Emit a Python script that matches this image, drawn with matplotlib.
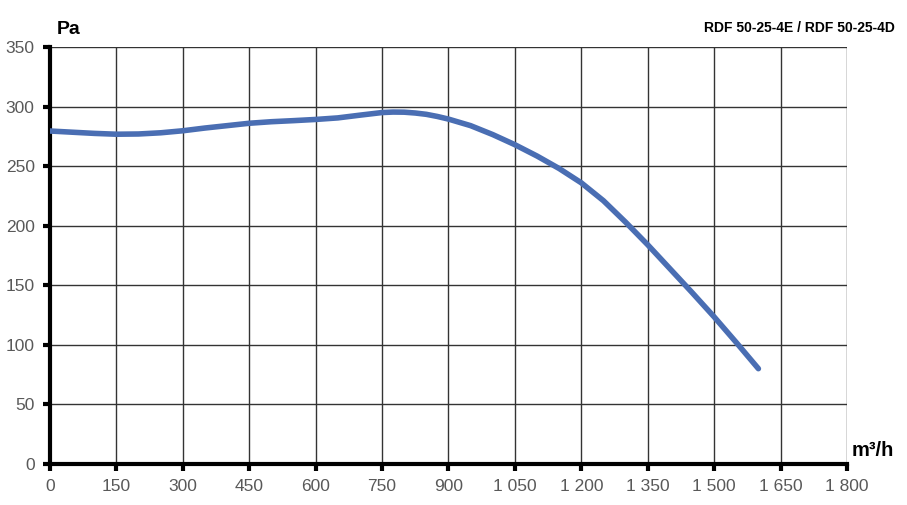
import matplotlib.pyplot as plt

# curve (airflow m3/h, pressure Pa)
flow = [0, 50, 100, 150, 200, 250, 300, 350, 400, 450, 500, 550, 600, 650, 700,
        750, 775, 800, 825, 850, 875, 900, 950, 1000, 1050, 1100, 1150, 1200,
        1250, 1300, 1350, 1400, 1450, 1500, 1550, 1600]
pressure = [279.5, 278.5, 277.5, 276.8, 277, 278, 279.7, 282, 284, 286, 287.3, 288.2, 289.2, 290.5, 292.8,
            295, 295.4, 295.3, 294.6, 293.5, 291.7, 289.5, 284, 276.5, 268, 258.5, 248, 236,
            221, 203, 184, 164, 144, 123.5, 102, 80]

x_ticks = [0, 150, 300, 450, 600, 750, 900, 1050, 1200, 1350, 1500, 1650, 1800]
y_ticks = [0, 50, 100, 150, 200, 250, 300, 350]

plt.rcParams['font.family'] = ['Liberation Sans', 'DejaVu Sans']

fig = plt.figure(figsize=(9.07, 5.05), dpi=100)
ax = fig.add_axes([0.0551, 0.0812, 0.8787, 0.8257])

ax.plot(flow, pressure, color='#4a6eb3', lw=4, solid_capstyle='round', solid_joinstyle='round', zorder=3)

ax.set_xlim(0, 1800)
ax.set_ylim(0, 350)
ax.set_xticks(x_ticks)
ax.set_xticklabels([f"{v:,}".replace(",", " ") for v in x_ticks])
ax.set_yticks(y_ticks)
ax.grid(True, color='#333333', lw=1.0)
ax.set_axisbelow(True)

for s in ['top', 'right']:
    ax.spines[s].set_visible(False)
for s in ['left', 'bottom']:
    ax.spines[s].set_linewidth(3)
    ax.spines[s].set_color('black')
ax.tick_params(direction='out', length=5, width=3, color='black',
               labelsize=12.5, labelcolor='#595959', pad=6)

fig.text(0.063, 0.925, 'Pa', fontsize=14, fontweight='bold', ha='left', va='bottom')
fig.text(0.987, 0.93, 'RDF 50-25-4E / RDF 50-25-4D', fontsize=10, fontweight='bold', ha='right', va='bottom')
fig.text(0.939, 0.09, 'm³/h', fontsize=14.5, fontweight='bold', ha='left', va='bottom')

fig.savefig('out.png', dpi=100)
